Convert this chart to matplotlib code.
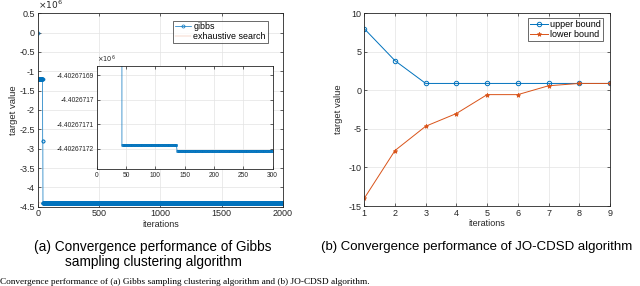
import numpy as np
import matplotlib.pyplot as plt
from matplotlib.ticker import FuncFormatter

plt.rcParams['font.family'] = ['Liberation Sans', 'DejaVu Sans']
plt.rcParams['axes.unicode_minus'] = False

# Gibbs sampling: step changes (iteration where value starts, value in 1e6 units)
gibbs_step_iter = [0, 1, 41, 43, 137]
gibbs_step_value = [0.0, -1.2, -2.8, -4.4026717184, -4.4026717208]
n_iter = 2000
exhaustive_value = -4.4026717208

# JO-CDSD bounds
jo_iter = [1, 2, 3, 4, 5, 6, 7, 8, 9]
upper_bound = [8.0, 3.85, 0.9, 0.9, 0.9, 0.9, 0.9, 0.9, 0.9]
lower_bound = [-14.0, -7.8, -4.65, -3.0, -0.55, -0.55, 0.6, 0.9, 0.9]

it = np.arange(0, n_iter + 1)
idx = np.searchsorted(gibbs_step_iter, it, side='right') - 1
gibbs = np.array(gibbs_step_value)[idx]

blue = '#0072BD'
orange = '#D95319'
axcol = '#262626'
gridcol = '#E3E3E3'


def matlab_style(ax, fs=6.5):
    for s in ax.spines.values():
        s.set_color(axcol)
        s.set_linewidth(0.6)
    ax.tick_params(direction='in', length=2, width=0.5, colors=axcol,
                   labelsize=fs, top=True, right=True, pad=2)
    ax.grid(True, color=gridcol, linewidth=0.5)
    ax.set_axisbelow(True)


fig = plt.figure(figsize=(6.4, 2.86), dpi=100)

# ---- (a) Gibbs sampling ----
ax1 = fig.add_axes([0.0589, 0.2773, 0.3833, 0.6762])
ax1.plot(it, np.full_like(gibbs, exhaustive_value), color=orange, lw=0.3,
         alpha=0.5, label='exhaustive search', zorder=1)
ax1.plot(it, gibbs, color=blue, lw=0.5, marker='o', markersize=2.2,
         markerfacecolor='none', markeredgewidth=0.5, label='gibbs', zorder=2)
ax1.set_xlim(0, 2000)
ax1.set_ylim(-4.5, 0.5)
ax1.set_yticks(np.arange(-4.5, 0.51, 0.5))
ax1.yaxis.set_major_formatter(FuncFormatter(lambda v, p: '%g' % round(v, 2)))
ax1.set_xticks([0, 500, 1000, 1500, 2000])
matlab_style(ax1)
ax1.set_xlabel('iterations', fontsize=6.5, color=axcol, labelpad=1)
ax1.set_ylabel('target value', fontsize=6.8, color=axcol, labelpad=1)
ax1.text(0.0, 1.01, r'$\times10^{6}$', transform=ax1.transAxes, fontsize=6.5,
         color=axcol, va='bottom', ha='left')
h, l = ax1.get_legend_handles_labels()
ax1.legend(h[::-1], l[::-1], loc='upper right', bbox_to_anchor=(267.7 / 640, 1 - 20.7 / 286),
           bbox_transform=fig.transFigure, fontsize=6.4, frameon=True, fancybox=False,
           edgecolor=axcol, borderpad=0.2, handlelength=1.8, handletextpad=0.3,
           labelspacing=0.1, borderaxespad=0).get_frame().set_linewidth(0.6)

# inset zoom
axi = fig.add_axes([0.1511, 0.408, 0.275, 0.361])
mask = it <= 300
axi.plot(it[mask], gibbs[mask], color=blue, lw=0.5, marker='o', markersize=1.6,
         markerfacecolor='none', markeredgewidth=0.4)
axi.set_xlim(0, 300)
axi.set_ylim(-4.4026717283, -4.4026716862)
axi.set_yticks([-4.40267172, -4.40267171, -4.40267170, -4.40267169])
axi.yaxis.set_major_formatter(FuncFormatter(lambda v, p: '%.9g' % v))
axi.set_xticks(np.arange(0, 301, 50))
matlab_style(axi, fs=4.8)
axi.text(0.0, 1.01, r'$\times10^{6}$', transform=axi.transAxes, fontsize=4.8,
         color=axcol, va='bottom', ha='left')

# ---- (b) JO-CDSD ----
ax2 = fig.add_axes([0.5692, 0.2797, 0.3839, 0.6738])
ax2.plot(jo_iter, upper_bound, color=blue, lw=0.7, marker='o', markersize=3.2,
         markerfacecolor='none', markeredgewidth=0.7, label='upper bound')
ax2.plot(jo_iter, lower_bound, color=orange, lw=0.7, marker='*', markersize=3.2,
         markeredgewidth=0.6, label='lower bound')
ax2.set_xlim(1, 9)
ax2.set_ylim(-15, 10)
ax2.set_xticks(jo_iter)
ax2.set_yticks(np.arange(-15, 11, 5))
matlab_style(ax2)
ax2.set_xlabel('iterations', fontsize=6.5, color=axcol, labelpad=1)
ax2.set_ylabel('target value', fontsize=6.8, color=axcol, labelpad=4)
ax2.legend(loc='upper right', bbox_to_anchor=(603 / 640, 1 - 18 / 286),
           bbox_transform=fig.transFigure, fontsize=6.5, frameon=True, fancybox=False,
           edgecolor=axcol, borderpad=0.2, handlelength=2.0, handletextpad=0.3,
           labelspacing=0.1, borderaxespad=0).get_frame().set_linewidth(0.6)

# captions
fig.text(153 / 640, 1 - 254.5 / 286, '(a) Convergence performance of Gibbs\nsampling clustering algorithm',
         ha='center', va='center', fontsize=9.8, linespacing=1.15)
fig.text(477 / 640, 1 - 246.7 / 286, '(b) Convergence performance of JO-CDSD algorithm',
         ha='center', va='center', fontsize=9.5)
fig.text(0.0, 1 - 284.5 / 286,
         'Convergence performance of (a) Gibbs sampling clustering algorithm and (b) JO-CDSD algorithm.',
         ha='left', va='baseline', fontsize=6.7, family=['Liberation Serif', 'DejaVu Serif'])

fig.savefig('out.png', dpi=100)
